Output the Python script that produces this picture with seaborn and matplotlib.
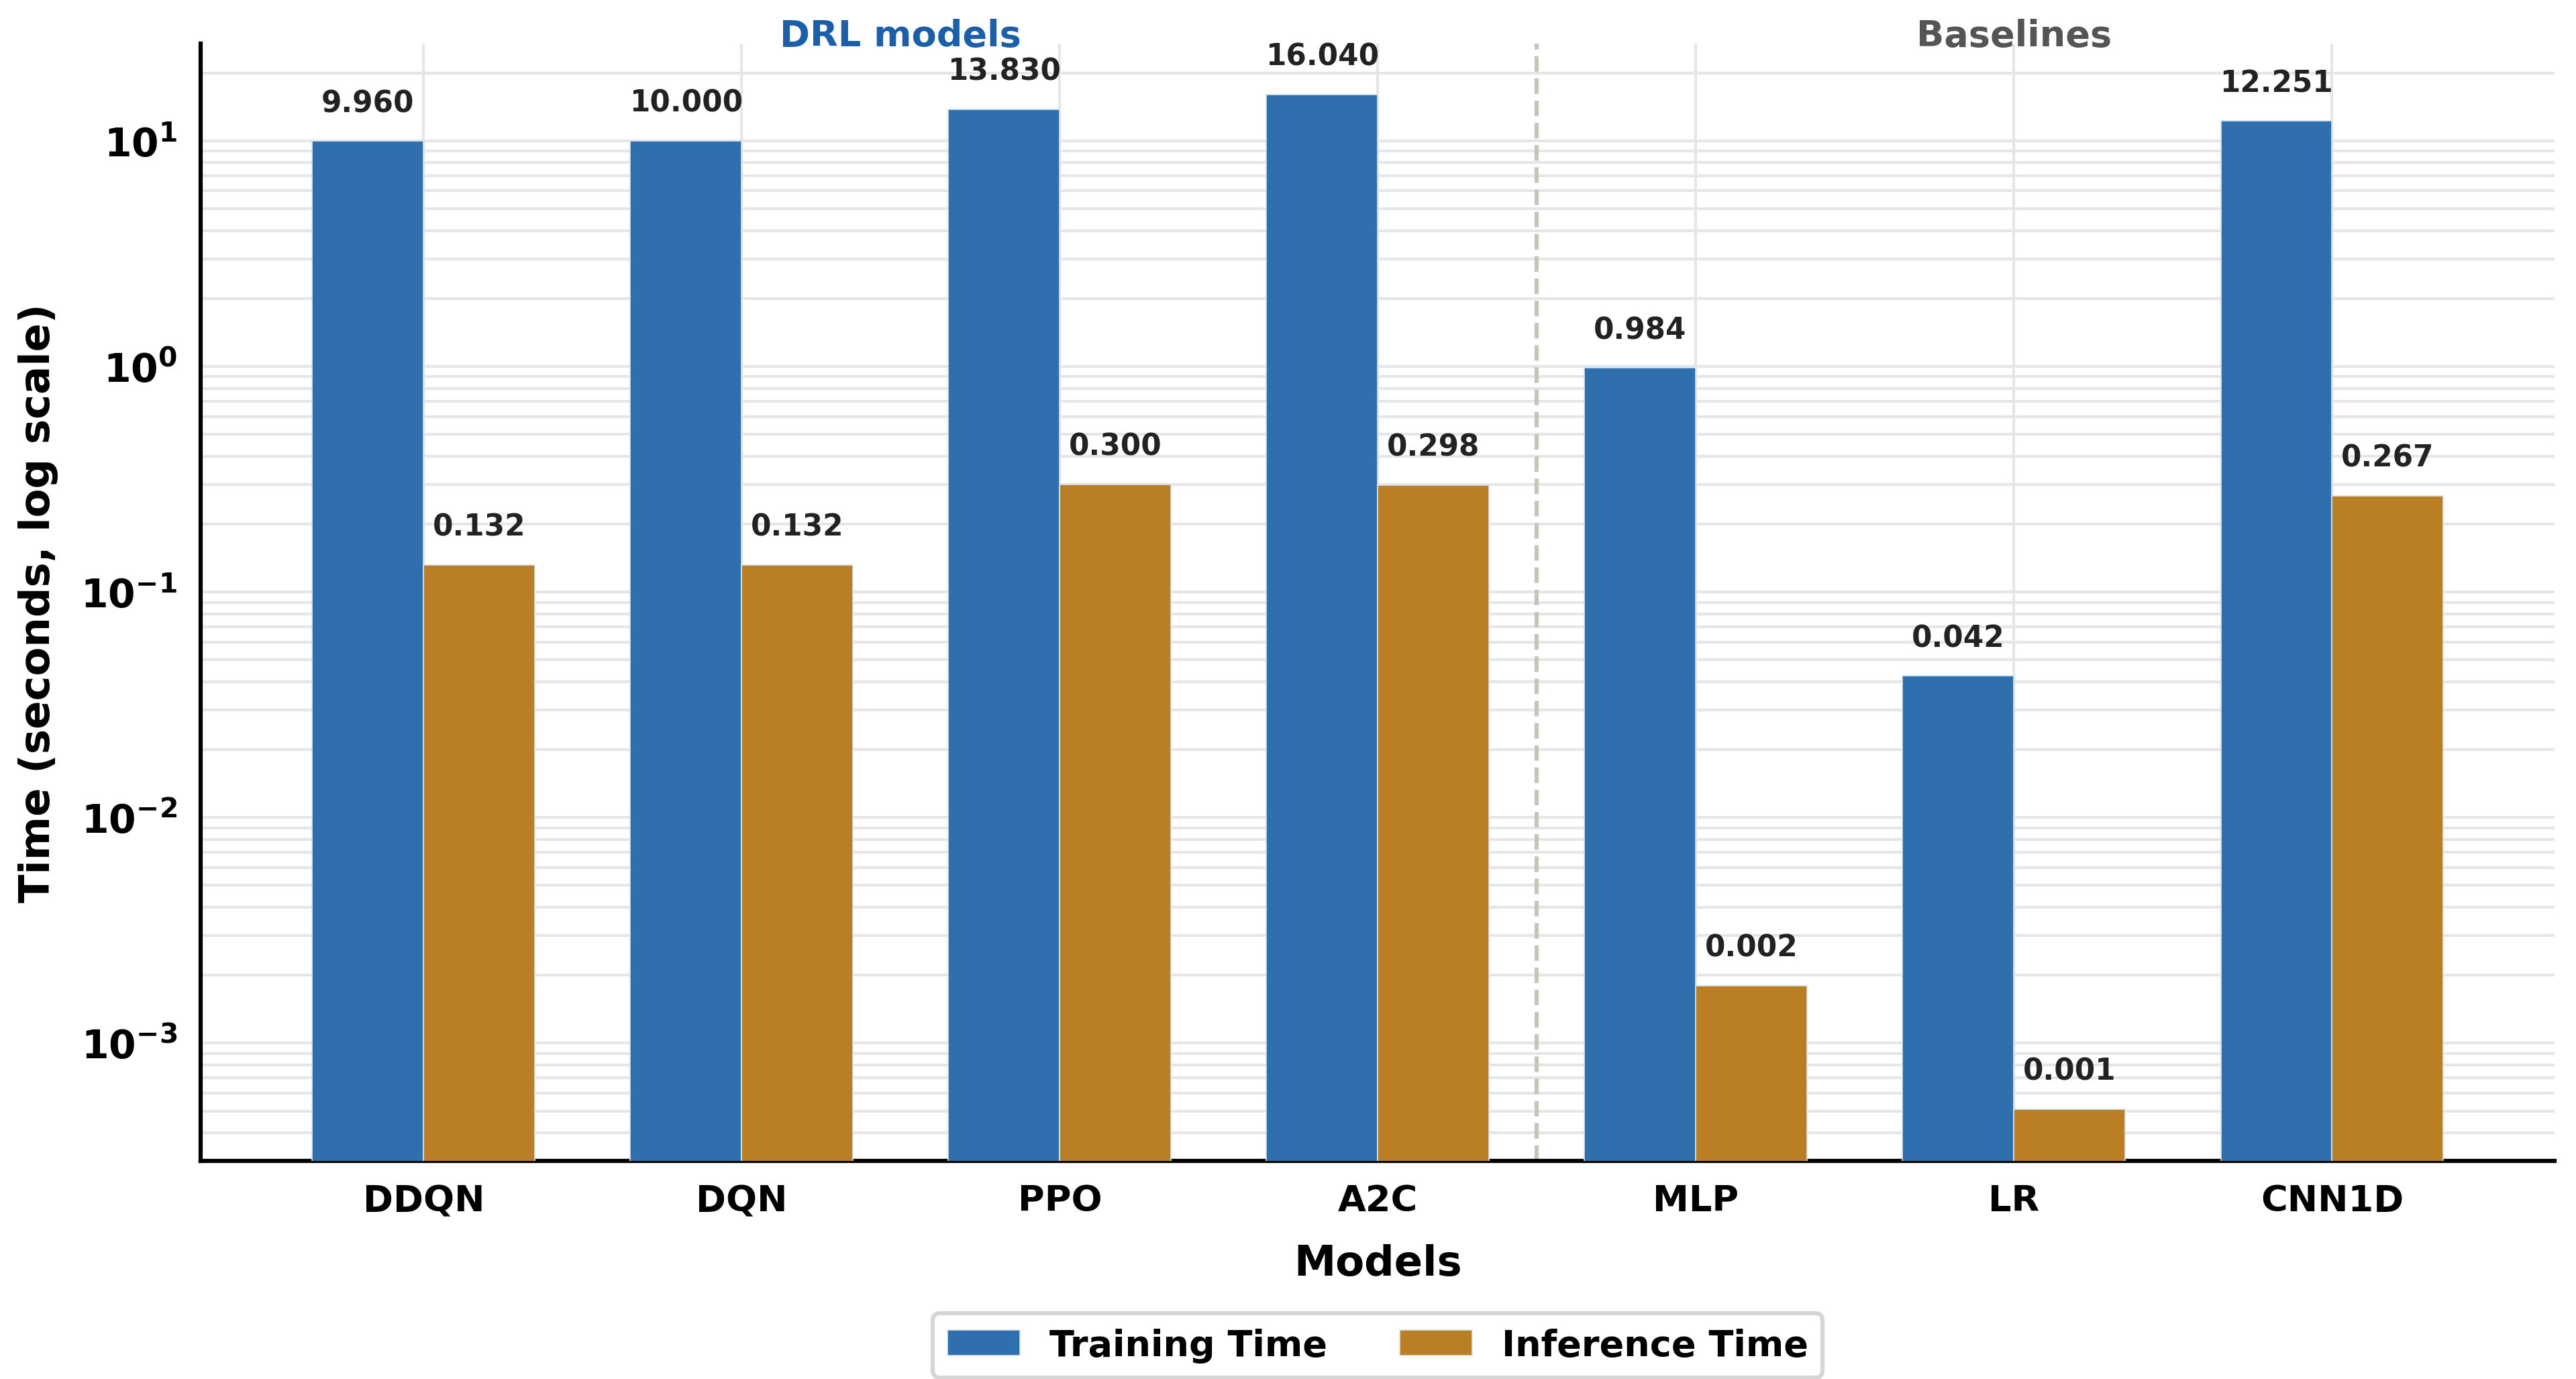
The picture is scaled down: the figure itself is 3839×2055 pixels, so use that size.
import pandas as pd
import matplotlib
matplotlib.use('Agg')
import matplotlib.pyplot as plt
import seaborn as sns

# ==========================================
# Data
# ==========================================
models = ['DDQN', 'DQN', 'PPO', 'A2C', 'MLP', 'LR', 'CNN1D']
training_time = [9.960, 10.000, 13.830, 16.040, 0.984, 0.0424, 12.251]
inference_time = [0.132, 0.132, 0.300, 0.298, 0.0018, 0.00051, 0.267]
series_names = ['Training Time', 'Inference Time']
group_labels = ['DRL models', 'Baselines']

colors = ['#2f6fad', '#ba7f24']

df = pd.DataFrame({
    'Model': models * 2,
    'Time': training_time + inference_time,
    'Metric': [series_names[0]] * len(models) + [series_names[1]] * len(models),
})

# ==========================================
# Plot
# ==========================================
sns.set_style('white')
plt.rcParams['font.family'] = ['DejaVu Sans']
plt.rcParams['mathtext.default'] = 'bf'
plt.rcParams['text.color'] = 'black'
plt.rcParams['axes.labelcolor'] = 'black'

fig = plt.figure(figsize=(12.797, 6.853), dpi=300)
ax = fig.add_axes([0.078, 0.158, 0.9137, 0.81])
ax.set_yscale('log')

sns.barplot(data=df, x='Model', y='Time', hue='Metric', order=models,
            hue_order=series_names, palette=colors, width=0.7,
            saturation=1, ax=ax, zorder=3, edgecolor='#d8e4f0', linewidth=0.4)

# value labels, taken from the data lists (in container order)
for container, values in zip(ax.containers, [training_time, inference_time]):
    for bar, v in zip(container, values):
        ax.text(bar.get_x() + bar.get_width() / 2, v * 1.27, f'{v:.3f}',
                ha='center', va='bottom', fontsize=10.5, fontweight='bold',
                color='#222222', zorder=5)

ax.set_xlim(-0.7, 6.7)
ax.set_ylim(3e-4, 27)

ax.grid(True, which='major', axis='both', color='#e6e6e6', linewidth=1.0, zorder=0)
ax.grid(True, which='minor', axis='y', color='#e6e6e6', linewidth=1.0, zorder=0)
ax.set_axisbelow(True)

# divider between DRL and baselines
ax.axvline(3.5, color='#c8c4ba', linestyle='--', linewidth=1.5, zorder=1)

ax.text(1.5, 1.007, group_labels[0], transform=ax.get_xaxis_transform(),
        ha='center', va='center', fontsize=13, fontweight='bold', color='#1a5fa8')
ax.text(5.0, 1.007, group_labels[1], transform=ax.get_xaxis_transform(),
        ha='center', va='center', fontsize=13, fontweight='bold', color='#555555')

sns.despine(ax=ax)
for side in ['left', 'bottom']:
    ax.spines[side].set_color('black')
    ax.spines[side].set_linewidth(1.5)

ax.tick_params(axis='both', which='major', length=5, width=1.2, colors='black')
ax.tick_params(axis='x', which='major', labelsize=13, pad=3)
ax.tick_params(axis='y', which='major', labelsize=14)
ax.tick_params(axis='y', which='minor', length=3, width=1.0, colors='black')
for lbl in ax.get_xticklabels() + ax.get_yticklabels():
    lbl.set_fontweight('bold')

ax.set_xlabel('Models', fontsize=15, fontweight='bold', labelpad=9)
ax.set_ylabel('Time (seconds, log scale)', fontsize=15, fontweight='bold', labelpad=8)

leg = ax.legend(loc='center', bbox_to_anchor=(0.5, -0.165), ncol=2,
                frameon=True, fancybox=True, prop={'size': 13, 'weight': 'bold'})
leg.get_frame().set_edgecolor('#cccccc')
leg.get_frame().set_linewidth(1.5)
for t in leg.get_texts():
    t.set_color('black')

plt.savefig('out.png', dpi=300)
plt.close()
